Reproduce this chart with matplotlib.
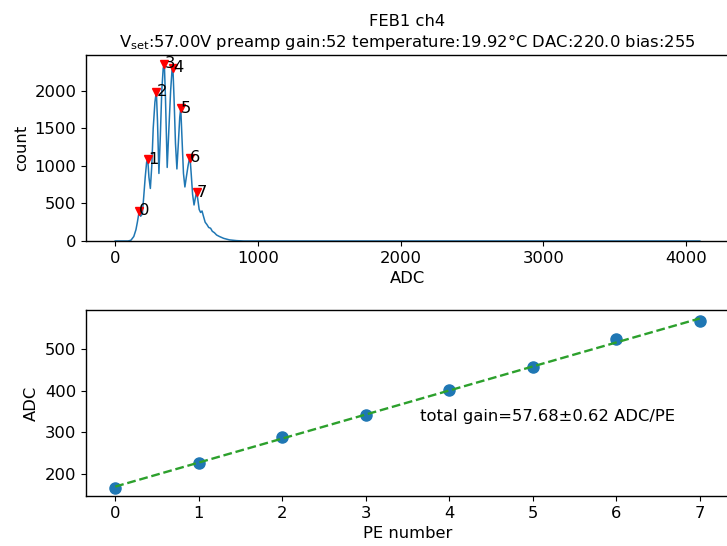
import numpy as np
import matplotlib
matplotlib.use('Agg')
import matplotlib.pyplot as plt

plt.rcParams['font.size'] = 11.8
plt.rcParams['axes.linewidth'] = 1.0

# histogram of ADC values (bin centre, counts)
adc = [0, 90, 110, 130, 145, 155, 162, 168, 178, 190, 200, 210, 220, 228, 236, 246,
       256, 266, 278, 288, 296, 306, 316, 326, 336, 344, 352, 364, 376, 388, 398, 404,
       412, 422, 432, 442, 452, 459, 467, 478, 488, 498, 510, 518, 524, 532, 542, 552,
       560, 566, 570, 578, 588, 598, 608, 618, 630, 642, 655, 668, 680, 695, 710, 730,
       760, 800, 850, 900, 4095]
counts = [0, 0, 10, 60, 150, 250, 330, 400, 330, 360, 600, 850, 1050, 1090, 850, 700,
          1000, 1500, 1850, 1990, 1600, 900, 1400, 2000, 2300, 2360, 1900, 980, 1500, 2000, 2280, 2310,
          1900, 1300, 960, 1300, 1650, 1770, 1400, 900, 720, 850, 1000, 1080, 1110, 900, 620, 480,
          560, 620, 650, 560, 420, 380, 400, 330, 250, 220, 180, 170, 130, 110, 80, 60,
          35, 15, 5, 0, 0]

# found peaks
peak_adc = [168, 228, 288, 344, 404, 459, 524, 570]
peak_counts = [400, 1090, 1990, 2360, 2310, 1770, 1110, 650]

# peak position vs number of photoelectrons
pe = [0, 1, 2, 3, 4, 5, 6, 7]
pe_adc = [167, 227, 288, 342, 402, 457, 524, 569]

fig = plt.figure(figsize=(7.27, 5.46), dpi=100)
ax1 = fig.add_axes([0.1183, 0.5586, 0.8845, 0.3407])
ax2 = fig.add_axes([0.1183, 0.0916, 0.8845, 0.3407])

ax1.plot(adc, counts, color='tab:blue', lw=1.1)
ax1.plot(peak_adc, peak_counts, 'v', color='red', ms=6)
for i in range(len(peak_adc)):
    ax1.text(peak_adc[i], peak_counts[i], str(i), ha='left', va='center')
ax1.set_ylim(bottom=0)
ax1.set_xlabel('ADC')
ax1.set_ylabel('count')
ax1.set_title('FEB1 ch4\n$\\mathregular{V_{set}}$:57.00V preamp gain:52 temperature:19.92°C DAC:220.0 bias:255',
              fontsize=11.8)

fit = np.polyfit(pe, pe_adc, 1)
ax2.plot(pe, pe_adc, 'o', color='tab:blue', ms=8)
ax2.plot(pe, np.polyval(fit, pe), '--', color='tab:green', lw=1.7)
ax2.text(3.65, 338, 'total gain=57.68±0.62 ADC/PE', va='center')
ax2.set_xlabel('PE number')
ax2.set_ylabel('ADC')

plt.savefig('out.png', dpi=100)
